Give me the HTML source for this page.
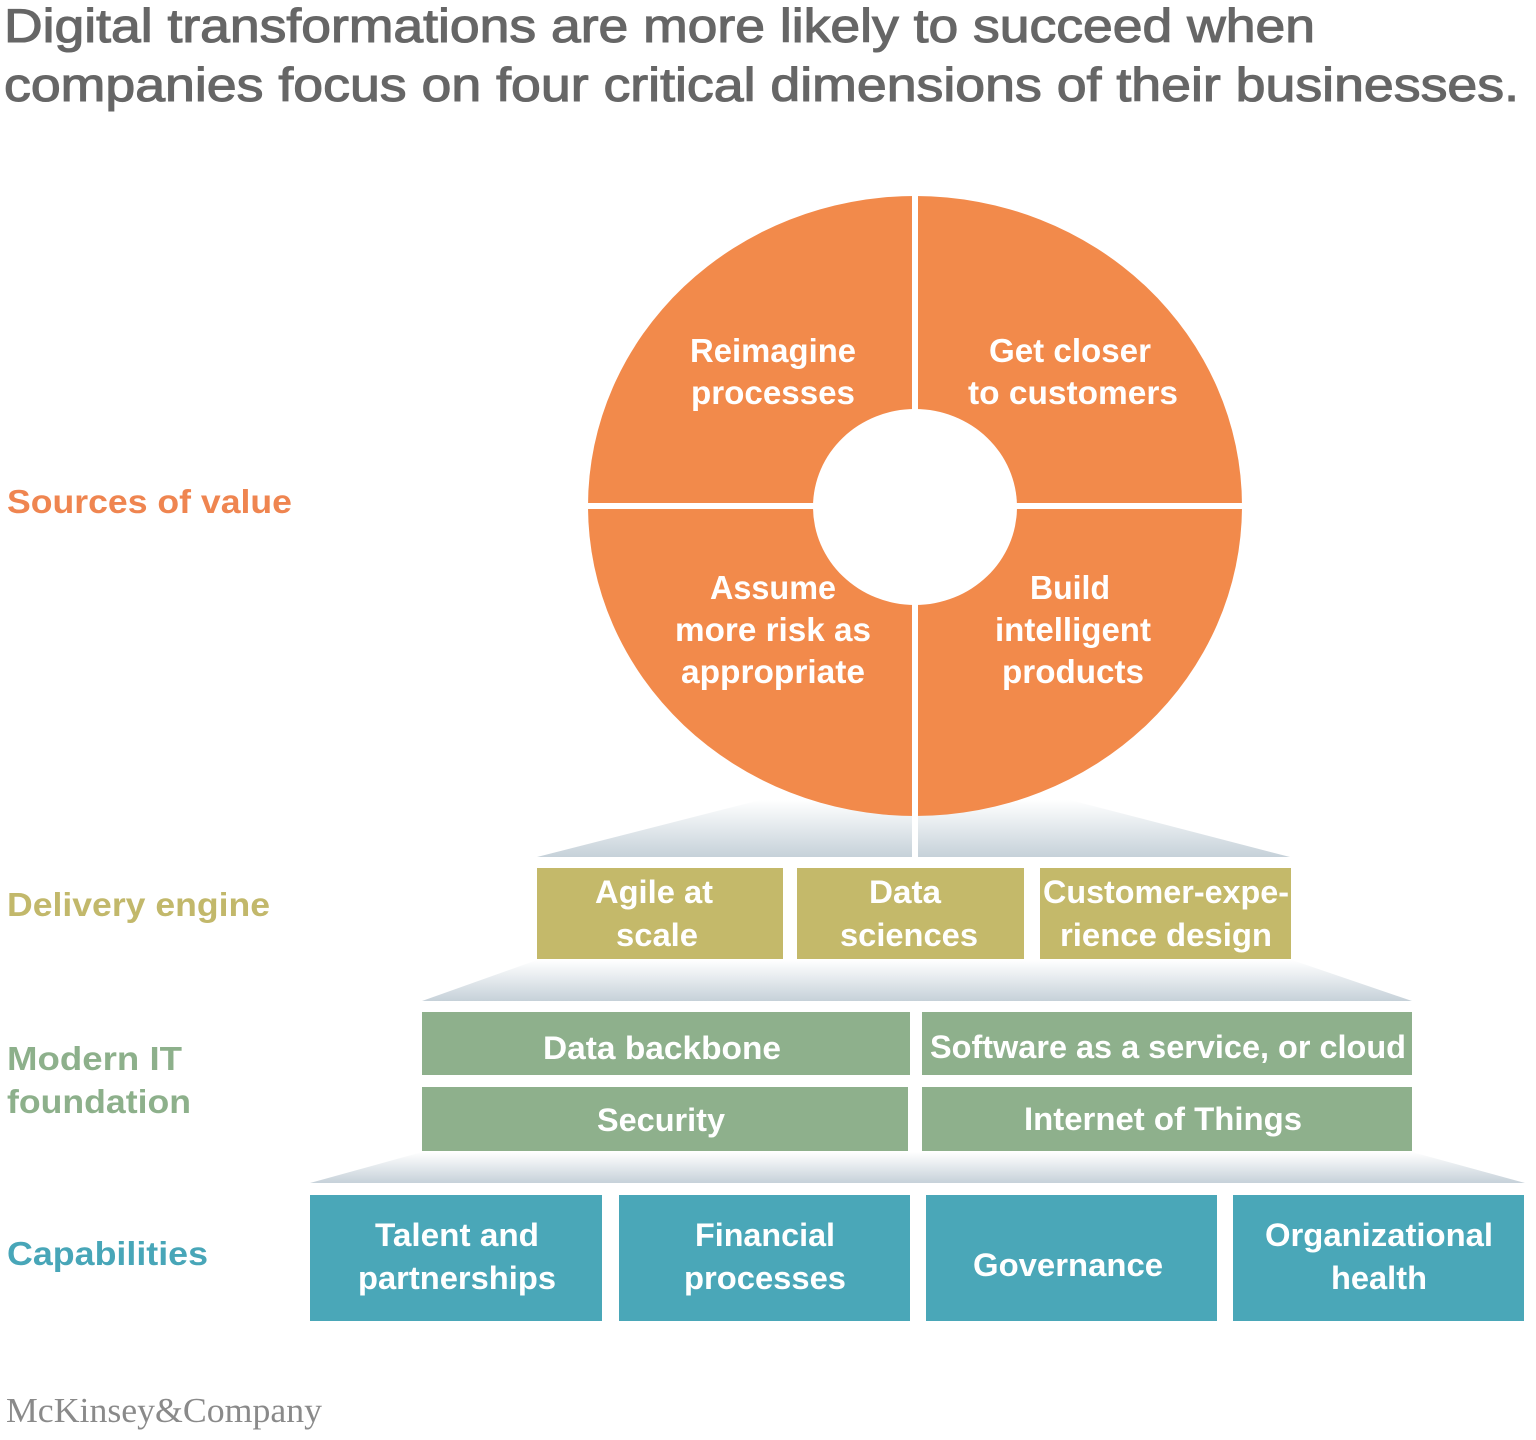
<!DOCTYPE html>
<html><head><meta charset="utf-8"><style>html,body{margin:0;padding:0;background:#fff}svg{display:block}</style></head>
<body>
<svg width="1536" height="1440" viewBox="0 0 1536 1440" xmlns="http://www.w3.org/2000/svg" font-family="Liberation Sans, Arial, sans-serif">
<defs>
<linearGradient id="g" x1="0" y1="0" x2="0" y2="1">
<stop offset="0" stop-color="#ffffff"/><stop offset="1" stop-color="#c6d1d9"/>
</linearGradient>
</defs>
<text x="4" y="42" font-size="47" fill="#666" stroke="#666" stroke-width="1.1" textLength="1311" lengthAdjust="spacingAndGlyphs">Digital transformations are more likely to succeed when</text>
<text x="4" y="101" font-size="47" fill="#666" stroke="#666" stroke-width="1.1" textLength="1515" lengthAdjust="spacingAndGlyphs">companies focus on four critical dimensions of their businesses.</text>

<g font-weight="bold" font-size="33">
<text x="7" y="513" fill="#ef8550" textLength="285" lengthAdjust="spacingAndGlyphs">Sources of value</text>
<text x="7" y="916" fill="#c2b86b" textLength="263" lengthAdjust="spacingAndGlyphs">Delivery engine</text>
<text x="7" y="1070" fill="#8db08b" textLength="175" lengthAdjust="spacingAndGlyphs">Modern IT</text>
<text x="7" y="1113" fill="#8db08b" textLength="184" lengthAdjust="spacingAndGlyphs">foundation</text>
<text x="7" y="1265" fill="#48a6b8" textLength="201" lengthAdjust="spacingAndGlyphs">Capabilities</text>
</g>

<polygon points="760,800 1070,800 1290,857 537,857" fill="url(#g)"/>
<polygon points="537,960 1292,960 1412,1001 422,1001" fill="url(#g)"/>
<polygon points="422,1152 1412,1152 1525,1183 310,1183" fill="url(#g)"/>

<ellipse cx="915" cy="506" rx="327" ry="310" fill="#f28a4b"/>
<rect x="912" y="190" width="6" height="670" fill="#fff"/>
<rect x="580" y="503" width="670" height="6" fill="#fff"/>
<ellipse cx="915" cy="507" rx="102" ry="98" fill="#fff"/>

<g font-weight="bold" font-size="33" fill="#fff" text-anchor="middle">
<text x="773" y="362" textLength="166" lengthAdjust="spacingAndGlyphs">Reimagine</text>
<text x="773" y="404" textLength="164" lengthAdjust="spacingAndGlyphs">processes</text>
<text x="1070" y="362" textLength="162" lengthAdjust="spacingAndGlyphs">Get closer</text>
<text x="1073" y="404" textLength="210" lengthAdjust="spacingAndGlyphs">to customers</text>
<text x="773" y="599" textLength="126" lengthAdjust="spacingAndGlyphs">Assume</text>
<text x="773" y="641" textLength="196" lengthAdjust="spacingAndGlyphs">more risk as</text>
<text x="773" y="683" textLength="184" lengthAdjust="spacingAndGlyphs">appropriate</text>
<text x="1070" y="599" textLength="80" lengthAdjust="spacingAndGlyphs">Build</text>
<text x="1073" y="641" textLength="156" lengthAdjust="spacingAndGlyphs">intelligent</text>
<text x="1073" y="683" textLength="142" lengthAdjust="spacingAndGlyphs">products</text>
</g>

<g fill="#c4b96a">
<rect x="537" y="868" width="246" height="91"/>
<rect x="797" y="868" width="227" height="91"/>
<rect x="1040" y="868" width="251" height="91"/>
</g>
<g fill="#8eb08c">
<rect x="422" y="1012" width="488" height="63"/>
<rect x="922" y="1012" width="490" height="63"/>
<rect x="422" y="1087" width="486" height="64"/>
<rect x="922" y="1087" width="490" height="64"/>
</g>
<g fill="#4aa7b8">
<rect x="310" y="1195" width="292" height="126"/>
<rect x="619" y="1195" width="291" height="126"/>
<rect x="926" y="1195" width="291" height="126"/>
<rect x="1233" y="1195" width="291" height="126"/>
</g>

<g font-weight="bold" font-size="32" fill="#fff" text-anchor="middle">
<text x="654" y="903" textLength="118" lengthAdjust="spacingAndGlyphs">Agile at</text>
<text x="657" y="946" textLength="82" lengthAdjust="spacingAndGlyphs">scale</text>
<text x="905" y="903" textLength="72" lengthAdjust="spacingAndGlyphs">Data</text>
<text x="909" y="946" textLength="138" lengthAdjust="spacingAndGlyphs">sciences</text>
<text x="1166" y="903" textLength="246" lengthAdjust="spacingAndGlyphs">Customer-expe-</text>
<text x="1166" y="946" textLength="212" lengthAdjust="spacingAndGlyphs">rience design</text>
<text x="662" y="1059" textLength="238" lengthAdjust="spacingAndGlyphs">Data backbone</text>
<text x="1168" y="1058" textLength="476" lengthAdjust="spacingAndGlyphs">Software as a service, or cloud</text>
<text x="661" y="1131" textLength="128" lengthAdjust="spacingAndGlyphs">Security</text>
<text x="1163" y="1130" textLength="278" lengthAdjust="spacingAndGlyphs">Internet of Things</text>
<text x="457" y="1246" textLength="164" lengthAdjust="spacingAndGlyphs">Talent and</text>
<text x="457" y="1289" textLength="198" lengthAdjust="spacingAndGlyphs">partnerships</text>
<text x="765" y="1246" textLength="140" lengthAdjust="spacingAndGlyphs">Financial</text>
<text x="765" y="1289" textLength="162" lengthAdjust="spacingAndGlyphs">processes</text>
<text x="1068" y="1276" textLength="190" lengthAdjust="spacingAndGlyphs">Governance</text>
<text x="1379" y="1246" textLength="228" lengthAdjust="spacingAndGlyphs">Organizational</text>
<text x="1379" y="1289" textLength="96" lengthAdjust="spacingAndGlyphs">health</text>
</g>

<text x="6" y="1422" font-family="Liberation Serif, serif" font-size="35" fill="#8a8a8a" textLength="316" lengthAdjust="spacingAndGlyphs">McKinsey&amp;Company</text>
</svg>
</body></html>
